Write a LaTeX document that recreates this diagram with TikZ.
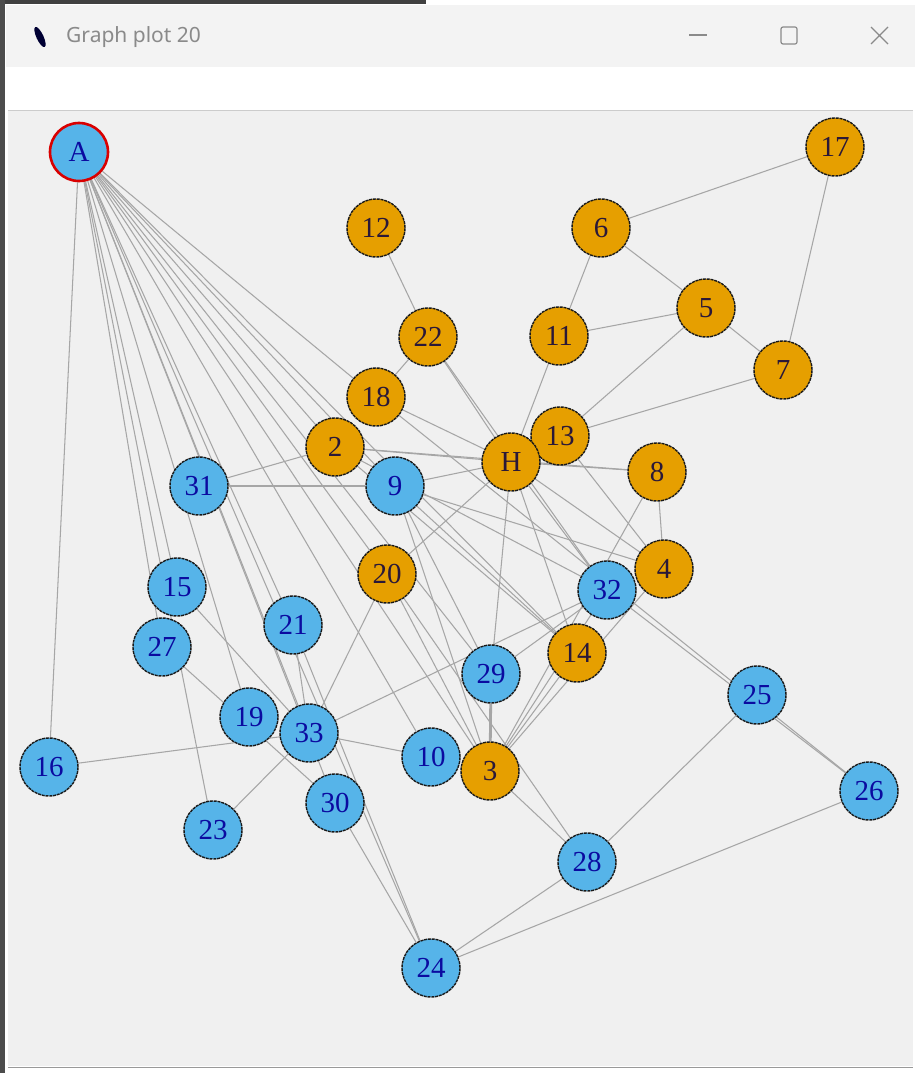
\documentclass[tikz,border=0pt]{standalone}
\usepackage{fontspec}
\setmainfont{Liberation Serif}
\newfontfamily\uifont{Noto Sans}
\definecolor{skyb}{HTML}{56B4E9}
\definecolor{orng}{HTML}{E69F00}
\definecolor{edgec}{HTML}{A6A6A6}
\definecolor{canvasc}{HTML}{F0F0F0}
\definecolor{titlec}{HTML}{F3F3F3}
\definecolor{bluetxt}{HTML}{0B0BA0}
\definecolor{orgtxt}{HTML}{2A1838}
\definecolor{uigray}{HTML}{8A8A8A}
\pgfdeclarelayer{canvas}
\pgfdeclarelayer{edges}
\pgfsetlayers{canvas,edges,main}
\tikzset{
  vtx/.style={circle, minimum size=58pt, inner sep=0pt, draw=black!90, line width=1.4pt,
    dash pattern=on 3pt off 0.8pt, font=\fontsize{29}{29}\selectfont},
  bv/.style={vtx, fill=skyb, text=bluetxt},
  ov/.style={vtx, fill=orng, text=orgtxt},
  rootv/.style={bv, draw=red!85!black, line width=2.6pt, solid},
  edge/.style={draw=edgec, line width=1.05pt},
  dbl/.style={draw=edgec, line width=2.8pt},
  uiline/.style={draw=uigray, line width=1.2pt},
}
\begin{document}
\begin{tikzpicture}[x=1pt,y=-1pt]
\useasboundingbox (0,0) rectangle (915,1073);
\begin{pgfonlayer}{canvas}
  \fill[white] (0,0) rectangle (915,1073);
  \fill[titlec] (6,5) rectangle (915,67);
  \fill[white] (6,67) rectangle (915,106);
  \fill[canvasc] (8,110) rectangle (913,1066);
  \draw[black!20] (8,110) -- (913,110);
  \draw[black!40] (8,1067) -- (913,1067);
  \fill[black!75] (0,0) rectangle (426,4);
  \fill[black!70] (0,0) rectangle (5,1073);
  \fill[black!80!blue, rotate around={25:(40,37)}] (40,37) ellipse (3.5 and 11);
  \draw[uiline] (689,35) -- (707,35);
  \draw[uiline, rounded corners=2pt] (781,27) rectangle (797,44);
  \draw[uiline] (871,27) -- (888,44) (871,44) -- (888,27);
\end{pgfonlayer}
\node[anchor=west, text=uigray, inner sep=0pt] (title) at (66,37) {\uifont\fontsize{21}{21}\selectfont Graph plot 20};

% vertices
\node[rootv] (nA) at (79,152) {A};
\node[ov] (n12) at (376,228) {12};
\node[ov] (n6) at (601,228) {6};
\node[ov] (n17) at (835,147) {17};
\node[ov] (n5) at (706,308) {5};
\node[ov] (n22) at (428,337) {22};
\node[ov] (n11) at (559,336) {11};
\node[ov] (n7) at (783,370) {7};
\node[ov] (n18) at (376,397) {18};
\node[ov] (n13) at (560,436) {13};
\node[ov] (n2) at (335,447) {2};
\node[ov] (nH) at (511,462) {H};
\node[ov] (n8) at (657,472) {8};
\node[bv] (n31) at (199,486) {31};
\node[bv] (n9) at (395,486) {9};
\node[ov] (n20) at (387,574) {20};
\node[ov] (n4) at (664,569) {4};
\node[bv] (n32) at (607,590) {32};
\node[bv] (n15) at (177,587) {15};
\node[bv] (n21) at (293,625) {21};
\node[bv] (n27) at (162,647) {27};
\node[ov] (n14) at (577,653) {14};
\node[bv] (n29) at (491,674) {29};
\node[bv] (n25) at (757,695) {25};
\node[bv] (n19) at (249,717) {19};
\node[bv] (n33) at (309,733) {33};
\node[bv] (n16) at (49,767) {16};
\node[bv] (n10) at (431,757) {10};
\node[ov] (n3) at (490,771) {3};
\node[bv] (n30) at (335,803) {30};
\node[bv] (n26) at (869,791) {26};
\node[bv] (n23) at (213,830) {23};
\node[bv] (n28) at (587,862) {28};
\node[bv] (n24) at (431,968) {24};

\begin{pgfonlayer}{edges}
  \foreach \a/\b in {A/16, A/27, A/23, A/15, A/19, A/33, A/30, A/24, A/21, A/10, A/3,
      A/29, A/20, A/9, A/2, A/14, A/18,
      6/17, 17/7, 6/5, 6/11, 11/5, 5/7, 5/13, 7/13, 11/H, 12/22, 22/18, 22/H, 22/32,
      18/H, 18/26, H/8, 2/8, 8/4, 13/4, 2/H, 9/H, 31/2, 31/9, 9/4, 9/14, 9/29, 9/3,
      20/H, 20/33, 20/3, 2/32, 2/14, H/29, H/14, H/32, H/4, 29/32, 33/32, 33/10,
      16/33, 23/33, 15/33, 27/30, 21/33, 21/24, 30/24, 3/14, 3/32, 3/4, 3/28, 20/28,
      8/3, 32/26, 25/28, 28/24, 24/26}
    \draw[edge] (n\a) -- (n\b);
  \draw[dbl] (n29) -- (n3);
\end{pgfonlayer}
\end{tikzpicture}
\end{document}
